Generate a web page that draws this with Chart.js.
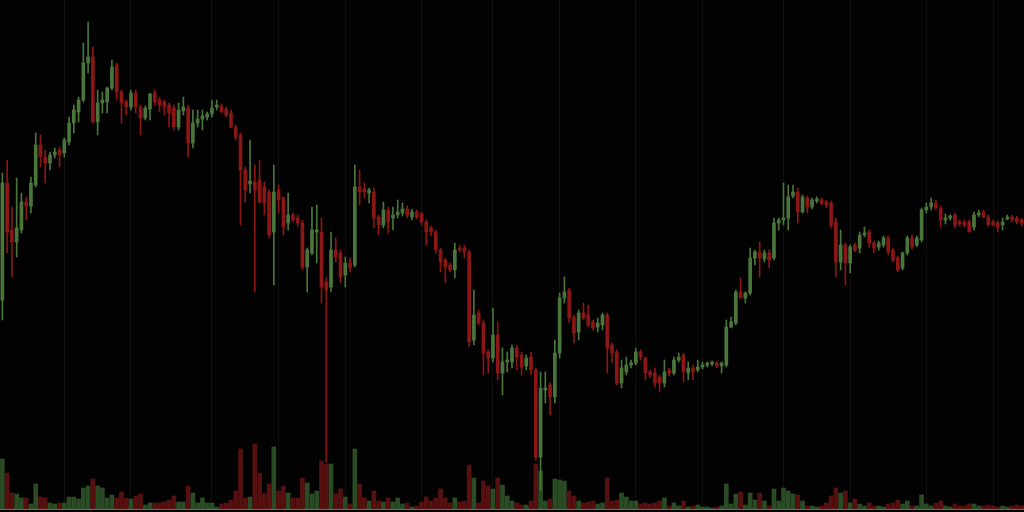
<!DOCTYPE html>
<html>
<head>
<meta charset="utf-8">
<title>Candles</title>
<script src="https://cdn.jsdelivr.net/npm/chart.js@4.4.1/dist/chart.umd.min.js"></script>
<style>
  html, body { margin: 0; padding: 0; background: #020202; }
  canvas { display: block; }
</style>
</head>
<body>
<canvas id="chart" width="1024" height="512"></canvas>
<script>
// candle values, oldest first
const opens = [212,329,282,270,282,310,306,327,367,355,349,357,362,359,370,389,400,412,449,455,
  390,409,410,424,447,420,410,405,419,405,394,403,419,412,410,407,404,385,401,404,
  369,389,393,395,398,405,406,403,399,385,377,342,328,330,332,325,320,280,322,314,
  289,297,294,289,245,259,280,280,230,225,262,259,237,249,247,325,323,319,320,295,
  287,302,294,297,299,303,295,300,298,290,284,280,262,252,247,242,264,264,260,172,
  199,189,160,154,177,139,150,150,164,157,146,155,142,55,122,127,115,159,214,222,
  195,180,199,197,190,185,187,197,167,160,129,140,147,149,160,154,140,139,135,129,
  142,139,152,157,139,144,142,145,147,148,149,146,147,185,189,220,214,219,254,260,
  253,259,254,289,292,294,316,320,300,314,305,311,312,310,309,290,250,267,249,267,
  264,277,280,269,265,267,274,262,254,244,259,274,267,272,302,305,309,304,292,294,
  297,290,290,290,285,297,300,295,290,289,287,293,295,294,292];
const highs = [339,352,305,334,319,315,335,379,377,362,360,364,365,374,395,407,415,469,490,465,
  422,420,425,452,449,422,412,422,422,407,406,419,422,415,412,409,407,409,415,407,
  402,402,402,400,412,412,408,405,402,387,379,345,372,347,352,330,322,347,327,315,
  319,299,297,292,264,305,307,294,234,280,274,262,255,254,347,342,329,324,324,297,
  310,305,305,312,309,306,303,302,300,292,286,282,264,254,249,269,267,267,262,222,
  202,192,162,204,190,164,160,167,167,160,157,160,144,140,140,129,172,219,235,224,
  197,202,209,207,192,194,199,199,169,162,152,155,152,164,162,155,142,144,137,152,
  144,155,159,159,150,147,152,150,150,151,151,150,192,195,222,234,220,264,262,270,
  262,262,294,294,329,327,327,324,317,316,314,315,314,312,311,294,282,269,267,269,
  280,285,282,271,271,276,276,264,256,260,276,277,276,304,309,314,312,306,298,297,
  299,292,292,292,300,302,302,297,292,291,294,297,297,296,294];
const lows = [192,259,235,255,279,292,299,325,345,329,342,354,345,355,367,379,390,410,439,389,
  377,399,399,422,412,389,397,402,399,377,392,392,407,400,397,385,382,382,397,355,
  364,385,382,392,395,402,399,395,384,372,287,310,319,220,309,297,274,227,299,277,
  282,290,286,242,220,257,249,209,50,220,250,229,225,240,245,307,314,309,284,277,
  284,279,282,294,296,294,292,293,287,267,276,259,240,229,240,234,260,254,165,167,
  187,137,139,150,132,117,140,144,142,137,142,137,52,22,109,97,109,154,209,189,
  169,172,192,185,182,180,182,139,149,127,124,137,144,147,152,132,134,125,120,125,
  136,137,150,130,132,132,140,143,145,146,144,139,145,184,187,214,209,217,247,235,
  250,244,252,282,287,282,314,289,299,299,303,309,307,304,284,235,242,227,239,260,
  259,275,265,259,262,265,257,250,240,242,257,263,265,270,299,302,302,285,288,292,
  284,286,285,280,282,295,294,286,286,280,282,292,290,288,286];
const closes = [329,280,270,284,310,306,329,367,355,349,357,360,357,372,389,402,412,449,455,390,
  409,412,424,445,420,409,405,419,405,394,404,418,410,407,405,399,385,402,405,369,
  389,393,396,398,404,406,400,397,385,375,342,322,331,322,310,309,277,320,312,285,
  297,292,289,245,262,282,282,225,222,262,255,235,249,244,325,320,320,322,294,287,
  302,290,297,300,303,297,300,295,290,280,280,262,250,245,242,262,262,260,170,197,
  189,159,154,177,139,150,152,164,155,145,154,142,55,124,124,115,159,214,220,194,
  179,199,194,187,184,189,197,164,159,129,144,147,149,160,155,139,137,129,129,140,
  139,152,155,140,144,140,145,147,148,149,146,149,185,190,220,214,219,254,260,254,
  259,252,289,292,294,315,320,300,315,305,312,313,309,307,287,250,267,249,265,262,
  277,279,269,264,269,274,260,252,242,259,274,265,274,302,305,309,304,292,294,295,
  287,288,287,280,297,299,295,287,287,285,290,295,292,290,289];
const volumes = [50,36,16,15,11,11,5,25,12,11,6,5,6,6,12,12,10,21,23,30,
  23,21,11,14,11,17,11,10,13,15,4,6,6,6,7,9,13,7,7,23,
  16,6,11,6,6,2,5,6,9,18,60,11,12,65,36,15,25,62,18,23,
  16,11,11,31,26,15,18,48,45,45,15,20,12,5,60,25,11,8,18,8,
  7,11,7,11,5,6,2,3,7,12,8,11,20,11,6,11,7,8,44,31,
  6,28,23,20,31,24,13,8,6,4,4,8,45,38,8,10,30,29,28,18,
  13,8,6,7,8,5,6,31,8,9,16,12,8,8,5,6,5,6,8,11,
  3,6,3,8,2,3,4,2,2,1,2,3,25,5,15,17,4,16,9,16,
  8,3,20,8,21,18,15,14,8,3,3,2,3,6,13,21,16,18,6,10,
  5,3,6,3,3,2,5,6,9,5,8,3,3,14,5,3,6,8,3,2,
  5,3,3,5,5,3,3,4,3,2,3,2,3,4,3];
// candle indexes where the faint vertical grid lines sit
const gridIdx = [13, 27, 44, 58, 72, 88, 103, 117, 133, 147, 164, 178, 194, 208];

const labels = closes.map((_, i) => String(i));
const up = closes.map((c, i) => c >= opens[i]);
const bodyColor = up.map(u => u ? '#4a763c' : '#8a1616');
const volColor = up.map(u => u ? '#2b4b25' : '#561010');

new Chart(document.getElementById('chart'), {
  type: 'bar',
  data: {
    labels: labels,
    datasets: [{
      label: 'body',
      data: opens.map((o, i) => [o, closes[i]]),
      backgroundColor: bodyColor,
      barThickness: 3,
      minBarLength: 2,
      grouped: false,
      order: 1
    }, {
      label: 'wick',
      data: lows.map((l, i) => [l, highs[i]]),
      backgroundColor: bodyColor,
      barThickness: 1,
      grouped: false,
      order: 2
    }, {
      label: 'volume',
      data: volumes,
      yAxisID: 'yv',
      backgroundColor: volColor,
      barThickness: 4,
      grouped: false,
      order: 3
    }]
  },
  options: {
    responsive: false,
    animation: false,
    layout: { padding: { left: 0, right: 0, top: 0, bottom: 3 } },
    plugins: { legend: { display: false }, tooltip: { enabled: false } },
    scales: {
      x: {
        offset: true,
        grid: { color: '#0f0f0f', offset: false, drawTicks: false },
        border: { display: true, color: '#6a6a6a', width: 2 },
        ticks: { display: false, autoSkip: false },
        afterBuildTicks: scale => {
          scale.ticks = gridIdx.map(v => ({ value: v }));
        }
      },
      y: { display: false, min: 3, max: 512 },
      yv: { display: false, min: 0, max: 509 }
    }
  }
});
</script>
</body>
</html>
